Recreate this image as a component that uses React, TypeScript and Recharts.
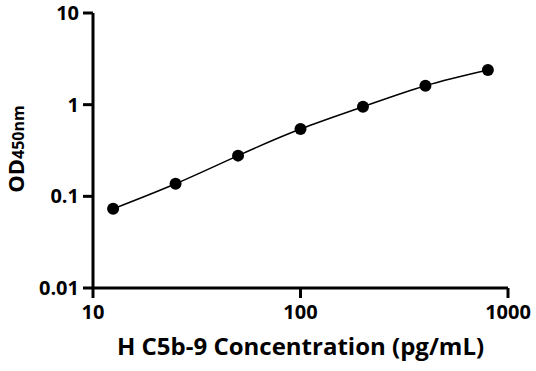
import { LineChart, Line, XAxis, YAxis } from "recharts";

const concentrations = [12.5, 25, 50, 100, 200, 400, 800];
const odValues = [0.073, 0.137, 0.278, 0.543, 0.95, 1.61, 2.39];
const xTicks = [10, 100, 1000];
const yTicks = [0.01, 0.1, 1, 10];

const data = concentrations.map((c, i) => ({ conc: c, od: odValues[i] }));

const font = "'Open Sans', sans-serif";
const tickStyle = { fontSize: 20, fontWeight: 700, fill: "#000", fontFamily: font };

function YLabel() {
  return (
    <text
      transform="translate(24,149) rotate(-90)"
      textAnchor="middle"
      fontFamily={font}
      fontWeight={700}
      fill="#000"
    >
      <tspan fontSize={22}>OD</tspan>
      <tspan fontSize={16}>450nm</tspan>
    </text>
  );
}

export default function App() {
  return (
    <div style={{ position: "absolute", left: 0, top: 0, background: "#fff" }}>
      <LineChart
        width={536}
        height={371}
        data={data}
        margin={{ top: 13, right: 28, left: 0, bottom: 0 }}
      >
        <XAxis
          dataKey="conc"
          type="number"
          scale="log"
          domain={[10, 1000]}
          ticks={xTicks}
          allowDataOverflow
          height={83}
          stroke="#000"
          strokeWidth={3}
          tickSize={10}
          tickMargin={7}
          tick={tickStyle}
          label={{
            value: "H C5b-9 Concentration (pg/mL)",
            position: "insideBottom",
            offset: 16,
            style: { fontSize: 24, fontWeight: 700, fill: "#000", fontFamily: font },
          }}
        />
        <YAxis
          type="number"
          scale="log"
          domain={[0.01, 10]}
          ticks={yTicks}
          allowDataOverflow
          width={93}
          stroke="#000"
          strokeWidth={3}
          tickSize={10}
          tickMargin={4}
          tick={tickStyle}
          label={{ content: () => <YLabel /> }}
        />
        <Line
          dataKey="od"
          type="natural"
          stroke="#000"
          strokeWidth={1.5}
          dot={{ r: 6, fill: "#000", stroke: "#000", strokeWidth: 0 }}
          isAnimationActive={false}
        />
      </LineChart>
    </div>
  );
}
